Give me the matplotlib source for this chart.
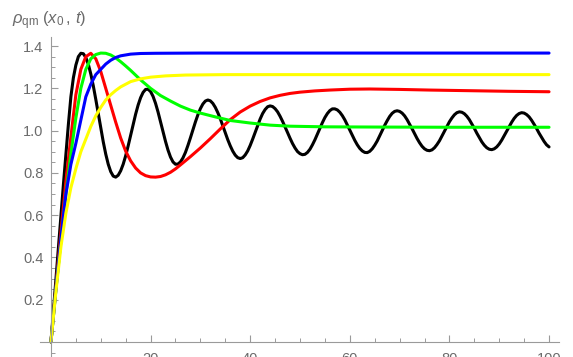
import numpy as np
import matplotlib
matplotlib.use("Agg")
import matplotlib.pyplot as plt
from matplotlib.ticker import MultipleLocator, FixedLocator

plt.rcParams["font.family"] = ["Liberation Sans", "DejaVu Sans"]
plt.rcParams["mathtext.fontset"] = "custom"
plt.rcParams["mathtext.rm"] = "Liberation Sans"
plt.rcParams["mathtext.it"] = "Liberation Sans:italic"

# --- data (t, rho) ---
t_black = np.arange(0, 100.5, 0.5)
rho_black = [0.00, 0.15, 0.30, 0.45, 0.60, 0.745, 0.89, 1.03, 1.16, 1.25,
             1.31, 1.35, 1.366, 1.364, 1.346, 1.314, 1.268, 1.212, 1.148, 1.080,
             1.012, 0.947, 0.889, 0.841, 0.806, 0.785, 0.780, 0.789, 0.810, 0.841,
             0.881, 0.928, 0.978, 1.029, 1.078, 1.121, 1.156, 1.181, 1.195, 1.196,
             1.185, 1.162, 1.129, 1.088, 1.042, 0.995, 0.949, 0.908, 0.875, 0.852,
             0.841, 0.842, 0.852, 0.871, 0.897, 0.930, 0.966, 1.004, 1.041, 1.075,
             1.104, 1.126, 1.140, 1.145, 1.141, 1.129, 1.110, 1.085, 1.056, 1.023,
             0.990, 0.957, 0.928, 0.903, 0.884, 0.872, 0.868, 0.872, 0.885, 0.904,
             0.930, 0.960, 0.992, 1.025, 1.055, 1.081, 1.100, 1.113, 1.117, 1.114,
             1.104, 1.089, 1.068, 1.044, 1.018, 0.991, 0.964, 0.939, 0.918, 0.901,
             0.891, 0.886, 0.888, 0.897, 0.912, 0.933, 0.957, 0.984, 1.011, 1.038,
             1.062, 1.081, 1.095, 1.103, 1.103, 1.098, 1.087, 1.071, 1.051, 1.027,
             1.002, 0.978, 0.954, 0.933, 0.916, 0.904, 0.897, 0.896, 0.902, 0.914,
             0.931, 0.951, 0.975, 1.000, 1.025, 1.047, 1.067, 1.082, 1.091, 1.094,
             1.091, 1.083, 1.070, 1.052, 1.031, 1.009, 0.986, 0.963, 0.943, 0.926,
             0.914, 0.907, 0.905, 0.909, 0.919, 0.934, 0.952, 0.974, 0.997, 1.020,
             1.042, 1.060, 1.075, 1.085, 1.089, 1.087, 1.080, 1.068, 1.052, 1.032,
             1.011, 0.988, 0.967, 0.947, 0.931, 0.919, 0.912, 0.910, 0.914, 0.923,
             0.937, 0.955, 0.976, 0.998, 1.019, 1.040, 1.058, 1.072, 1.081, 1.085,
             1.083, 1.076, 1.065, 1.049, 1.030, 1.010, 0.988, 0.968, 0.949, 0.933,
             0.923]

t_red = [0, 1, 2, 3, 4, 5, 6, 7, 8, 9, 10, 11, 12, 13, 14, 15, 16, 17, 18, 19,
         20, 21, 22, 23, 24, 25, 26, 28, 30, 32, 34, 36, 38, 40, 42, 44, 46, 48,
         50, 53, 56, 60, 64, 70, 76, 84, 92, 100]
rho_red = [0.00, 0.26, 0.52, 0.76, 0.97, 1.17, 1.29, 1.35, 1.366, 1.34, 1.28,
           1.20, 1.12, 1.04, 0.965, 0.903, 0.857, 0.823, 0.800, 0.787, 0.781,
           0.780, 0.783, 0.791, 0.803, 0.819, 0.838, 0.877, 0.918, 0.962, 1.008,
           1.052, 1.088, 1.116, 1.138, 1.155, 1.167, 1.176, 1.182, 1.188, 1.192,
           1.196, 1.197, 1.195, 1.192, 1.189, 1.186, 1.184]

t_green = [0, 1, 2, 3, 4, 5, 6, 7, 8, 9, 10, 11, 12, 13, 14, 15, 16, 18, 20,
           22, 24, 26, 28, 30, 33, 36, 40, 44, 48, 55, 65, 80, 100]
rho_green = [0.00, 0.25, 0.48, 0.70, 0.89, 1.06, 1.20, 1.29, 1.34, 1.36, 1.367,
             1.366, 1.358, 1.344, 1.326, 1.306, 1.285, 1.24, 1.20, 1.166, 1.14,
             1.116, 1.097, 1.083, 1.065, 1.048, 1.036, 1.026, 1.021, 1.018, 1.017,
             1.016, 1.016]

t_blue = [0, 1, 2, 3, 4, 5, 6, 7, 8, 9, 10, 11, 12, 13, 14, 16, 18, 21, 30, 100]
rho_blue = [0.00, 0.25, 0.49, 0.70, 0.84, 0.94, 1.05, 1.16, 1.22, 1.265, 1.29,
            1.315, 1.333, 1.346, 1.354, 1.362, 1.365, 1.366, 1.367, 1.367]

t_yellow = [0, 1, 2, 3, 4, 5, 6, 7, 8, 9, 10, 11, 12, 13, 14, 16, 18, 20, 23,
            27, 35, 100]
rho_yellow = [0.00, 0.24, 0.45, 0.61, 0.73, 0.82, 0.90, 0.96, 1.02, 1.07, 1.11,
              1.145, 1.17, 1.19, 1.207, 1.232, 1.245, 1.253, 1.259, 1.263, 1.265,
              1.265]

series = [(t_black, rho_black, "black"),
          (t_red, rho_red, "red"),
          (t_green, rho_green, "#00ff00"),
          (t_blue, rho_blue, "blue"),
          (t_yellow, rho_yellow, "yellow")]

xticks = [20, 40, 60, 80, 100]
yticks = [0.2, 0.4, 0.6, 0.8, 1.0, 1.2, 1.4]

axis_grey = "#9a9a9a"
label_grey = "#6b6b6b"

fig = plt.figure(figsize=(5.73, 3.57), dpi=100)
ax = fig.add_axes([40 / 573, 0.2 / 357, 519 / 573, 319.8 / 357])

for t, r, c in series:
    ax.plot(t, r, color=c, lw=2.2, solid_capstyle="round",
            solid_joinstyle="round", clip_on=False)

ax.set_xlim(-2.2, 102)
ax.set_ylim(-0.07, 1.443)

for s in ["top", "right"]:
    ax.spines[s].set_visible(False)
ax.spines["left"].set_position(("data", 0))
ax.spines["bottom"].set_position(("data", 0))
for s in ["left", "bottom"]:
    ax.spines[s].set_color(axis_grey)
    ax.spines[s].set_linewidth(0.8)

ax.xaxis.set_major_locator(FixedLocator(xticks))
ax.xaxis.set_minor_locator(MultipleLocator(5))
ax.yaxis.set_major_locator(FixedLocator(yticks))
ax.yaxis.set_minor_locator(MultipleLocator(0.05))
ax.set_xticklabels([str(v) for v in xticks])
ax.set_yticklabels(["%.1f" % v for v in yticks])

ax.tick_params(axis="both", which="major", direction="in", length=5,
               width=0.8, color=axis_grey, labelcolor=label_grey, labelsize=10.5)
ax.tick_params(axis="both", which="minor", direction="in", length=3,
               width=0.7, color=axis_grey)
ax.tick_params(axis="x", which="major", pad=7)
ax.tick_params(axis="y", which="major", pad=5.5)

fig.text(12 / 573, 1 - 21 / 357, r"$\rho_{\mathrm{qm}}\;(x_0\,,\,t)$",
         color=label_grey, fontsize=12, ha="left", va="center")

fig.savefig("out.png", dpi=100)
